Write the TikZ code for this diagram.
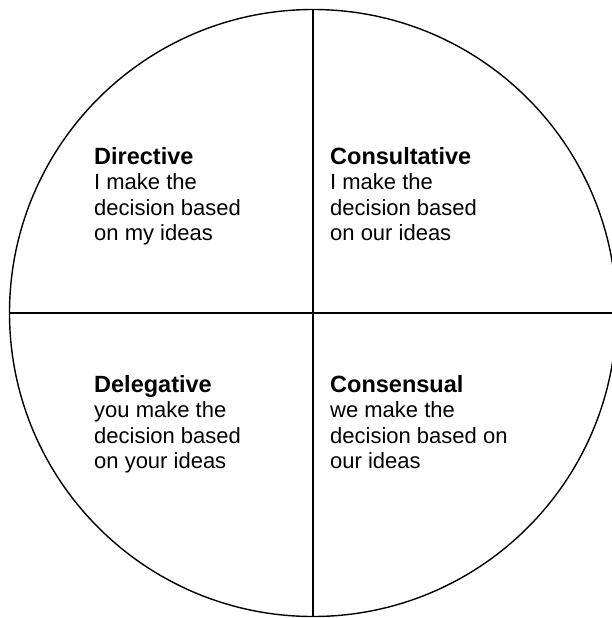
\documentclass[tikz,border=0pt]{standalone}
\usepackage{fontspec}
\setmainfont{Liberation Sans}
\newcommand{\quadtitle}[1]{{\fontsize{23.5}{25.5}\selectfont\bfseries #1}}
\begin{document}
\begin{tikzpicture}[x=1pt, y=-1pt,
  quadtext/.style={anchor=north west, align=left, inner sep=0pt, font=\fontsize{22}{25.5}\selectfont}]
  \useasboundingbox (0,0) rectangle (612,618);
  \clip (0,0) rectangle (612,618);

  % Círculo
  \coordinate (centro) at (313,313);
  \draw[line width=1.4pt] (centro) circle[radius=303.5];

  % Eixos
  \coordinate (topo) at (313,9.5);
  \coordinate (base) at (313,616.5);
  \coordinate (esq) at (9.5,313);
  \coordinate (dir) at (616.5,313);
  \draw[line width=1.4pt] (topo) -- (base);
  \draw[line width=1.4pt] (esq) -- (dir);

  % Quadrantes
  \node[quadtext] (directive) at (94,147) {\quadtitle{Directive}\\I make the\\decision based\\on my ideas};
  \node[quadtext] (consultative) at (330,147) {\quadtitle{Consultative}\\I make the\\decision based\\on our ideas};
  \node[quadtext] (delegative) at (94,375) {\quadtitle{Delegative}\\you make the\\decision based\\on your ideas};
  \node[quadtext] (consensual) at (330,375) {\quadtitle{Consensual}\\we make the\\decision based on\\our ideas};
\end{tikzpicture}
\end{document}
